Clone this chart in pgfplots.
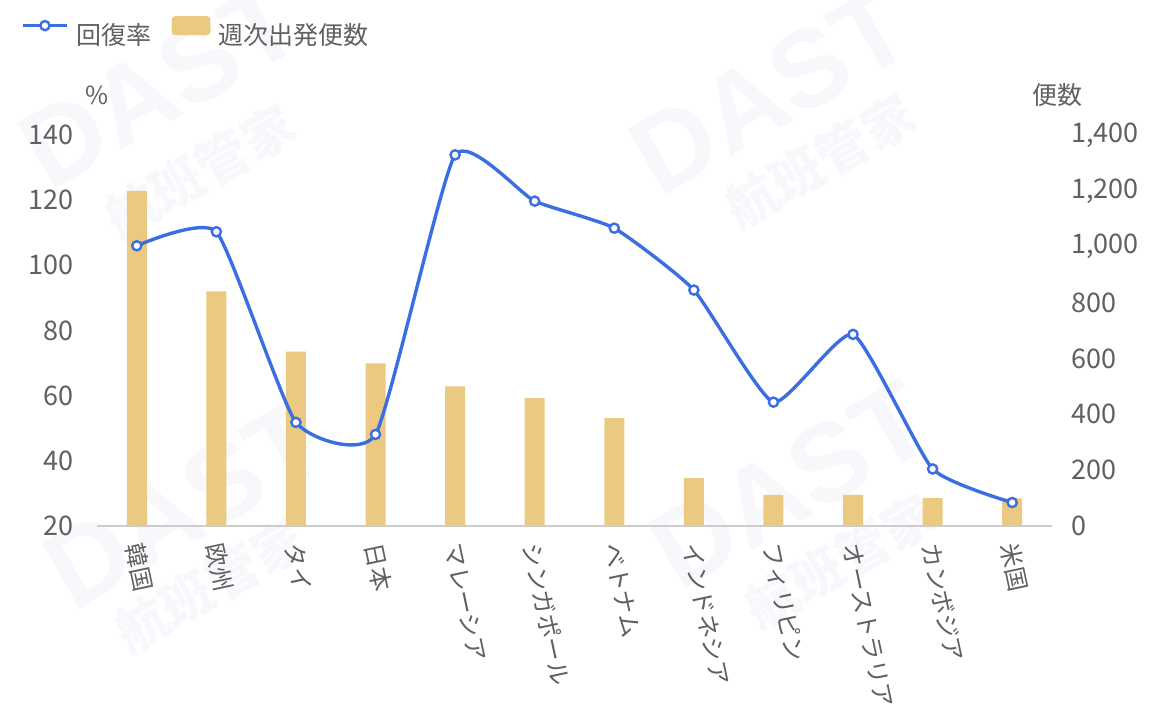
\documentclass[border=0pt]{standalone}
\usepackage{fontspec}
\setmainfont{Noto Sans CJK JP}
\newfontfamily\wmfont{Liberation Sans}
\usepackage{pgfplots}
\usepackage{pgfplotstable}
\pgfplotsset{compat=1.18}

\definecolor{barcol}{RGB}{236,201,128}
\definecolor{linecol}{RGB}{59,111,225}
\definecolor{axcol}{RGB}{204,204,204}
\definecolor{txtcol}{RGB}{96,96,96}
\definecolor{wmcol}{RGB}{246,248,252}

\pgfplotsset{
  lineleg/.style={legend image code/.code={
    \draw[##1, mark repeat=2, mark phase=2] plot coordinates {(0pt,5pt) (11pt,5pt) (22pt,5pt)};}},
  barleg/.style={legend image code/.code={
    \fill[barcol, rounded corners=1.5pt] (0pt,0.5pt) rectangle (19pt,9.5pt);}},
}

% idx: category position, flights: weekly departures, rate: recovery rate (%)
\pgfplotstableread{
idx flights rate
0  1200 106.0
1  840  110.3
2  624  51.8
3  582  48.1
4  500  133.9
5  458  119.7
6  386  111.4
7  171  92.4
8  111  58.0
9  111  78.8
10 101  37.5
11 99   27.2
}\datatable

\begin{document}
\begin{tikzpicture}
\useasboundingbox (0,0) rectangle (583pt,360.5pt);

% faint watermark
\begin{scope}[every node/.style={text=wmcol}]
  \node[rotate=30, font=\wmfont\fontsize{55}{55}\selectfont\bfseries] at (80pt,318pt) {DAST};
  \node[rotate=30, font=\fontsize{26}{26}\selectfont\bfseries] at (100pt,275pt) {航班管家};
  \node[rotate=30, font=\wmfont\fontsize{55}{55}\selectfont\bfseries] at (385pt,315pt) {DAST};
  \node[rotate=30, font=\fontsize{26}{26}\selectfont\bfseries] at (410pt,280pt) {航班管家};
  \node[rotate=30, font=\wmfont\fontsize{55}{55}\selectfont\bfseries] at (92pt,108pt) {DAST};
  \node[rotate=30, font=\fontsize{26}{26}\selectfont\bfseries] at (105pt,68pt) {航班管家};
  \node[rotate=30, font=\wmfont\fontsize{55}{55}\selectfont\bfseries] at (395pt,118pt) {DAST};
  \node[rotate=30, font=\fontsize{26}{26}\selectfont\bfseries] at (420pt,80pt) {航班管家};
\end{scope}

\pgfplotsset{base/.style={
  at={(48.5pt,97.5pt)}, anchor=south west,
  scale only axis, width=477.5pt, height=195.5pt,
  xmin=-0.5, xmax=11.5,
  /pgf/number format/assume math mode=true,
  tick style={draw=none},
  ticklabel style={font=\fontsize{13.5}{15}\selectfont, text=txtcol},
}}

% bars on the right axis
\begin{axis}[base,
  axis y line*=right, axis x line*=bottom,
  y axis line style={draw=none},
  x axis line style={draw=axcol, line width=1pt},
  ymin=0, ymax=1400, ytick={0,200,...,1400},
  yticklabel style={anchor=west, xshift=6pt},
  /pgf/number format/1000 sep={,},
  xtick={0,...,11},
  xticklabels={韓国,欧州,タイ,日本,マレーシア,シンガポール,ベトナム,インドネシア,フィリピン,オーストラリア,カンボジア,米国},
  xticklabel style={rotate=-78, anchor=west, xshift=5pt, yshift=-3pt, font=\fontsize{12}{14}\selectfont},
  clip=false,
]
\addplot[ybar, bar width=10pt, fill=barcol, draw=none] table[x=idx, y=flights] {\datatable};
\node[text=txtcol, font=\fontsize{12.5}{14}\selectfont] at (rel axis cs:1.006,1.102) {便数};
\end{axis}

% recovery rate on the left axis
\begin{axis}[base,
  axis y line*=left, axis x line=none,
  y axis line style={draw=none},
  ymin=20, ymax=140, ytick={20,40,...,140},
  yticklabel style={anchor=east, xshift=-8pt},
  clip=false,
  legend columns=-1,
  legend style={draw=none, fill=none, at={(-0.086,1.315)}, anchor=north west,
    font=\fontsize{12.5}{14}\selectfont, text=txtcol,
    /tikz/every even column/.append style={column sep=8pt},
    /tikz/every odd column/.append style={column sep=2pt}},
]
\addplot[linecol, line width=1.7pt, smooth, tension=0.3, mark=*, mark size=2.3pt,
  mark options={fill=white, draw=linecol, line width=1.2pt}, lineleg]
  table[x=idx, y=rate] {\datatable};
\addlegendentry{回復率}
\addlegendimage{barleg}
\addlegendentry{週次出発便数}
\node[text=txtcol, font=\fontsize{12.5}{14}\selectfont] at (rel axis cs:0,1.102) {\%};
\end{axis}
\end{tikzpicture}
\end{document}
